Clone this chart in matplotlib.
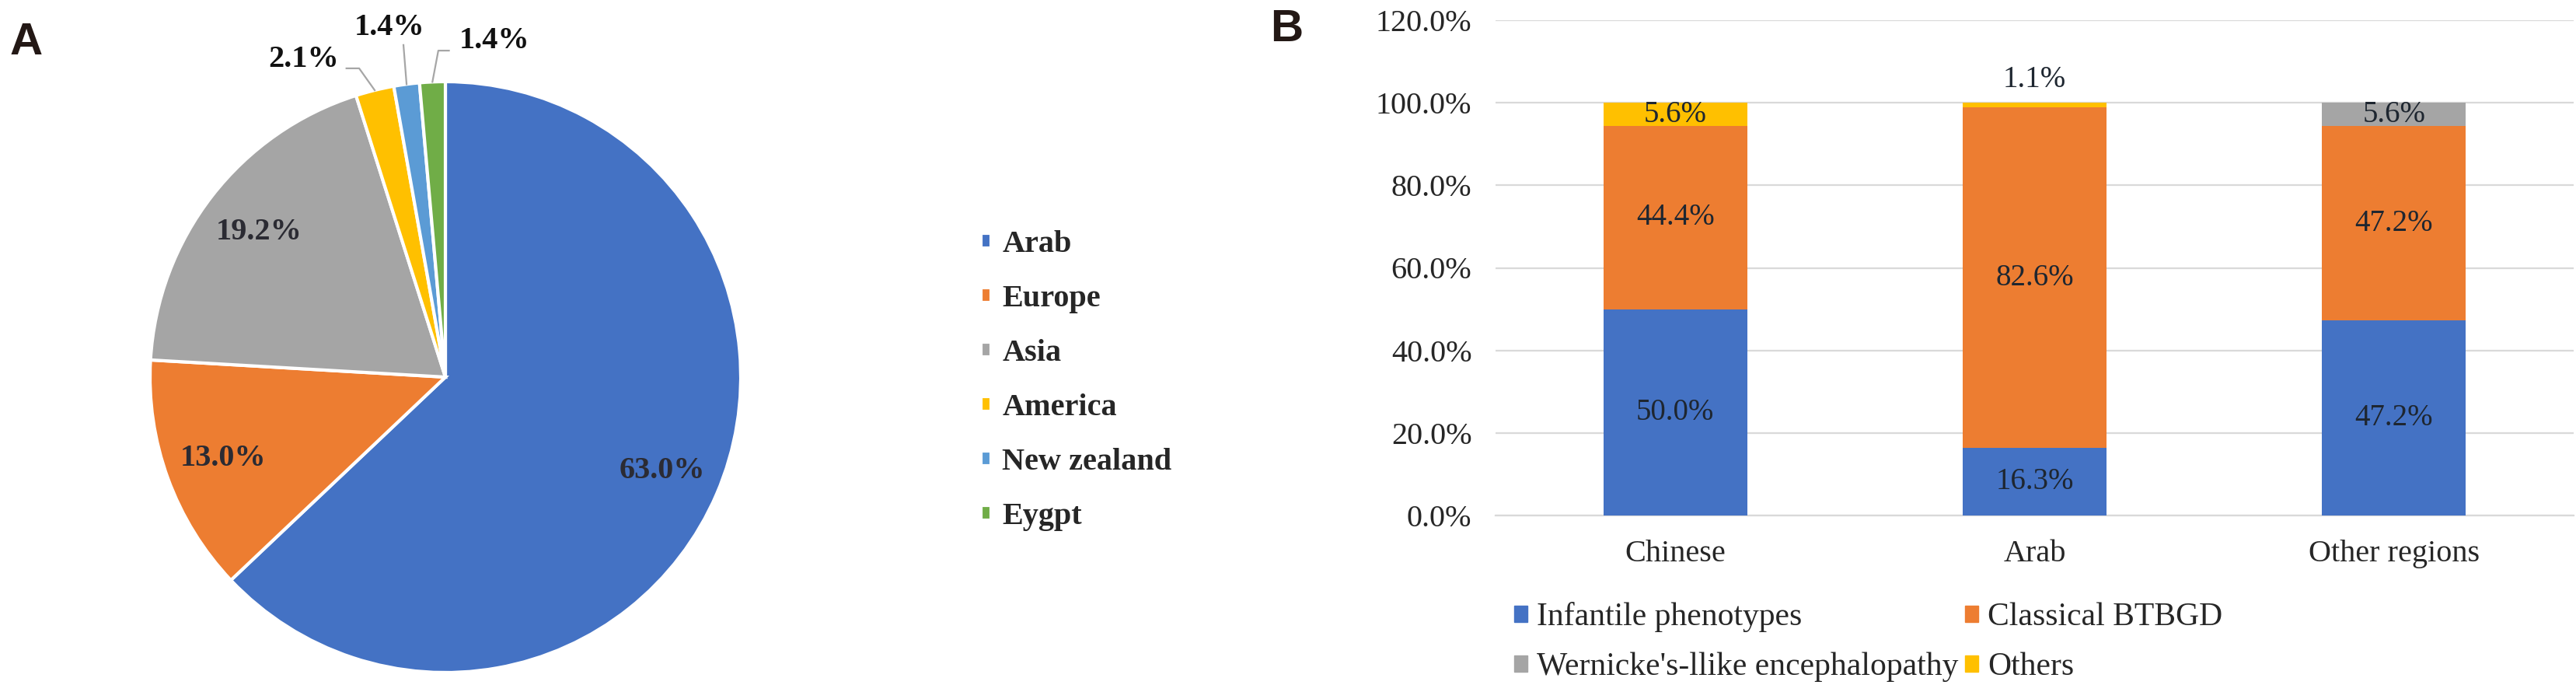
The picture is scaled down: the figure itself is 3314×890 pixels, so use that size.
import numpy as np
import matplotlib.pyplot as plt
from matplotlib.patches import Patch
from matplotlib.ticker import FuncFormatter

# panel A: share of reported cases by region
regions_a = ['Arab', 'Europe', 'Asia', 'America', 'New zealand', 'Eygpt']
share_a = [63.0, 13.0, 19.2, 2.1, 1.4, 1.4]
colors_a = ['#4472C4', '#ED7D31', '#A5A5A5', '#FFC000', '#5B9BD5', '#70AD47']

# panel B: phenotype by origin
groups_b = ['Chinese', 'Arab', 'Other regions']
infantile = [50.0, 16.3, 47.2]
classical = [44.4, 82.6, 47.2]
wernicke = [0.0, 0.0, 5.6]
others = [5.6, 1.1, 0.0]
series_names = ['Infantile phenotypes', 'Classical BTBGD',
                "Wernicke's-llike encephalopathy", 'Others']
series_colors = ['#4472C4', '#ED7D31', '#A5A5A5', '#FFC000']
yticks_b = [0, 20, 40, 60, 80, 100, 120]

W, H = 3314, 890
fig = plt.figure(figsize=(W / 100, H / 100), dpi=100)
txt = '#262626'
serif = 'Liberation Serif'

def px_box(x0, y0, x1, y1):
    return [x0 / W, 1 - y1 / H, (x1 - x0) / W, (y1 - y0) / H]

# ---- A ----
ax = fig.add_axes(px_box(193, 105, 953, 865))
wedges, _ = ax.pie(share_a, colors=colors_a, startangle=90, counterclock=False,
                   wedgeprops=dict(edgecolor='white', linewidth=3))
ax.set_xlim(-1, 1)
ax.set_ylim(-1, 1)
ax.set_aspect('equal')
ax.axis('off')

# outside labels for the thin slices: label centre, then leader path
outside = {
    3: ((-0.48, 1.075), [(-0.292, 1.045), (-0.335, 1.045)]),
    4: ((-0.19, 1.182), [(-0.142, 1.124)]),
    5: ((0.165, 1.137), [(-0.024, 1.105), (0.012, 1.105)]),
}
for i, w in enumerate(wedges):
    mid = np.deg2rad((w.theta1 + w.theta2) / 2)
    label = f'{share_a[i]:.1f}%'
    if i in outside:
        (lx, ly), path = outside[i]
        xs = [np.cos(mid)] + [p[0] for p in path]
        ys = [np.sin(mid)] + [p[1] for p in path]
        ax.plot(xs, ys, color='#A6A6A6', lw=1.6, clip_on=False)
        ax.text(lx, ly, label, ha='center', va='center', fontsize=29,
                fontweight='bold', family=serif, color='#111111')
    else:
        r = 0.8
        ax.text(r * np.cos(mid), r * np.sin(mid), label, ha='center',
                va='center', fontsize=29, fontweight='bold', family=serif,
                color='#2b2b33')

leg_a = fig.legend(wedges, regions_a, loc='upper left',
                   bbox_to_anchor=(1262 / W, 1 - 296 / H), frameon=False,
                   prop=dict(family=serif, weight='bold', size=29),
                   handlelength=0.33, handleheight=0.33, handletextpad=0.35,
                   labelspacing=0.82, borderpad=0, borderaxespad=0)
for t in leg_a.get_texts():
    t.set_color(txt)

fig.text(13 / W, 1 - 70 / H, 'A', fontsize=42, fontweight='bold',
         family='Liberation Sans', color='#231815', va='baseline')
fig.text(1634 / W, 1 - 53 / H, 'B', fontsize=42, fontweight='bold',
         family='Liberation Sans', color='#231815', va='baseline')

# ---- B ----
bx = fig.add_axes(px_box(1924, 26, 3311, 663))
x = np.arange(len(groups_b))
bottom = np.zeros(len(groups_b))
for vals, col in zip([infantile, classical, wernicke, others], series_colors):
    vals = np.array(vals)
    bx.bar(x, vals, width=0.4, bottom=bottom, color=col, zorder=3)
    for xi, v, b0 in zip(x, vals, bottom):
        if v <= 0:
            continue
        if v < 3:
            y = b0 + v + 5.6
        else:
            y = b0 + v / 2
        bx.text(xi, y, f'{v:.1f}%', ha='center', va='center', fontsize=28,
                family=serif, color='#1e2630', zorder=4)
    bottom += vals

bx.set_xlim(-0.5, 2.5)
bx.set_ylim(0, 120)
bx.set_yticks(yticks_b)
bx.yaxis.set_major_formatter(FuncFormatter(lambda v, p: f'{v:.1f}%'))
bx.set_xticks(x)
bx.set_xticklabels(groups_b)
bx.grid(axis='y', color='#D9D9D9', lw=1.6, zorder=0)
for s in ['top', 'right', 'left']:
    bx.spines[s].set_visible(False)
bx.spines['bottom'].set_color('#D9D9D9')
bx.spines['bottom'].set_linewidth(1.6)
bx.tick_params(axis='both', length=0, labelsize=29, colors=txt)
bx.tick_params(axis='y', pad=22)
bx.tick_params(axis='x', pad=22)
for lab in bx.get_xticklabels() + bx.get_yticklabels():
    lab.set_family(serif)

handles = [Patch(color=c) for c in series_colors]
order = [0, 2, 1, 3]
leg_b = fig.legend([handles[i] for i in order], [series_names[i] for i in order],
                   ncol=2, loc='upper left', bbox_to_anchor=(1948 / W, 1 - 774 / H),
                   frameon=False, prop=dict(family=serif, size=30),
                   handlelength=0.4, handleheight=0.4, handletextpad=0.3,
                   columnspacing=0.2, labelspacing=0.62, borderpad=0,
                   borderaxespad=0)
for t in leg_b.get_texts():
    t.set_color(txt)

fig.savefig('out.png', dpi=100, facecolor='white')
